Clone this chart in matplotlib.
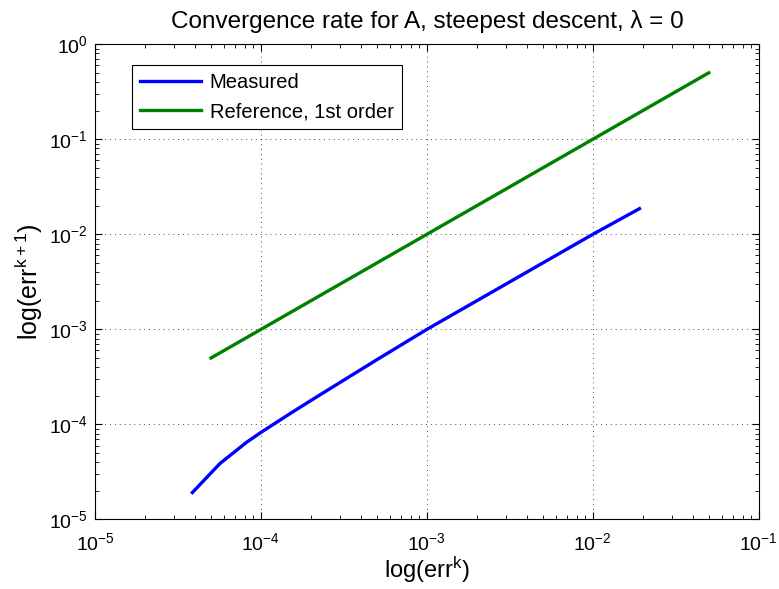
import numpy as np
import matplotlib
matplotlib.use('Agg')
import matplotlib.pyplot as plt

plt.rcParams['font.family'] = ['Liberation Sans', 'DejaVu Sans']
plt.rcParams['mathtext.fontset'] = 'custom'
plt.rcParams['mathtext.rm'] = 'Liberation Sans'
plt.rcParams['mathtext.it'] = 'Liberation Sans:italic'

# measured error pairs (err^k, err^k+1)
err_k = [3.86e-5, 5.66e-5, 8.2e-5, 1.0e-4, 1.57e-4, 2.26e-4, 5.0e-4, 1.0e-3, 1.0e-2, 1.91e-2]
err_k1 = [1.92e-5, 3.88e-5, 6.5e-5, 8.25e-5, 1.37e-4, 2.04e-4, 4.8e-4, 1.0e-3, 1.0e-2, 1.86e-2]

# first order reference line
ref_x = [5e-5, 5e-2]
ref_y = [5e-4, 5e-1]

fig = plt.figure(figsize=(7.79, 5.89), dpi=100)
ax = fig.add_axes([0.122, 0.118, 0.852, 0.807])

ax.loglog(err_k, err_k1, color=(0, 0, 1), lw=2.4, label='Measured')
ax.loglog(ref_x, ref_y, color=(0, 0.5, 0), lw=2.4, label='Reference, 1st order')

ax.set_xlim(1e-5, 1e-1)
ax.set_ylim(1e-5, 1e0)
ax.grid(True, which='major', linestyle=(0, (1, 4)), color='k', lw=0.7, alpha=0.7)
ax.tick_params(which='both', direction='in', top=True, right=True, labelsize=14)
ax.tick_params(which='major', length=5)
ax.tick_params(which='minor', length=3)
ax.tick_params(axis='x', which='major', pad=9)
ax.tick_params(axis='y', which='major', pad=5)
for s in ax.spines.values():
    s.set_linewidth(0.8)

ax.set_title(r'Convergence rate for A, steepest descent, λ = 0', fontsize=17.5, pad=12)
ax.set_xlabel(r'log(err$^{\mathrm{k}}$)', fontsize=17, labelpad=1)
ax.set_ylabel(r'log(err$^{\mathrm{k+1}}$)', fontsize=18, labelpad=3)

leg = ax.legend(loc='upper left', bbox_to_anchor=(0.041, 0.977), fontsize=14.5,
                fancybox=False, framealpha=1, edgecolor='k', handlelength=3.0,
                handletextpad=0.45, borderpad=0.4, labelspacing=0.5)
leg.get_frame().set_linewidth(0.8)

fig.savefig('out.png', dpi=100)
